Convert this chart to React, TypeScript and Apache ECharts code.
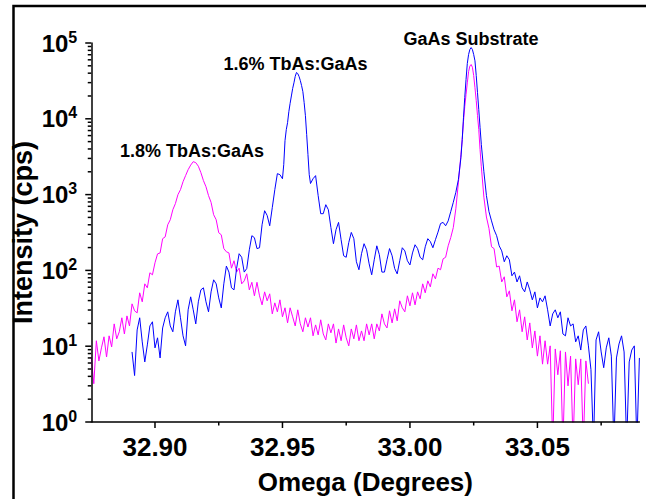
import React, { useEffect, useRef } from 'react';
import * as echarts from 'echarts';

const FONT = '"Liberation Sans", Arial, Helvetica, sans-serif';

// tick values
const xMajorTicks = [32.9, 32.95, 33.0, 33.05];
const xMinorTicks = [32.925, 32.975, 33.025, 33.075];
const yMajorTicks = [1, 10, 100, 1000, 10000, 100000];
const yMinorTicks = [
  2, 3, 4, 5, 6, 7, 8, 9,
  20, 30, 40, 50, 60, 70, 80, 90,
  200, 300, 400, 500, 600, 700, 800, 900,
  2000, 3000, 4000, 5000, 6000, 7000, 8000, 9000,
  20000, 30000, 40000, 50000, 60000, 70000, 80000, 90000,
];

const xAxisTitle = 'Omega (Degrees)';
const yAxisTitle = 'Intensity (cps)';
const peakLabels = ['1.8% TbAs:GaAs', '1.6% TbAs:GaAs', 'GaAs Substrate'];

// 1.8% TbAs:GaAs sample (magenta) — [omega, intensity]
const film18 = [
  [32.875,7.2],[32.876,3.2],[32.877,11.8],[32.878,6.4],[32.879,9.5],[32.880,13.3],[32.881,7.2],[32.882,13.7],[32.883,9.8],[32.884,19.7],
  [32.885,12.5],[32.886,15.5],[32.887,23.7],[32.888,14.5],[32.889,25.1],[32.890,18.5],[32.891,36.2],[32.892,29.3],[32.893,27.5],[32.894,50.6],
  [32.895,38.5],[32.896,66.5],[32.897,58.9],[32.898,93],[32.899,87.5],[32.900,126],[32.901,165],[32.902,170],[32.903,262],[32.904,277],
  [32.905,400],[32.906,466],[32.907,632],[32.908,760],[32.909,998],[32.910,1161],[32.911,1480],[32.912,1780],[32.913,2133],[32.914,2450],
  [32.915,2720],[32.916,2640],[32.917,2370],[32.918,1950],[32.919,1530],[32.920,1270],[32.921,970],[32.922,790],[32.923,543],[32.924,466],
  [32.925,314],[32.926,295],[32.927,194],[32.928,176],[32.929,170],[32.930,107],[32.931,134],[32.932,95],[32.933,107],[32.934,66.5],
  [32.935,72.8],[32.936,90.2],[32.937,55.4],[32.938,69.7],[32.939,46.2],[32.940,69.7],[32.941,46.2],[32.942,35.1],[32.943,52.1],[32.944,39.7],
  [32.945,49.1],[32.946,26.7],[32.947,37.3],[32.948,28.4],[32.949,40.9],[32.950,24.4],[32.951,32.1],[32.952,20.3],[32.953,32.1],[32.954,24.4],
  [32.955,18.5],[32.956,30.2],[32.957,19.7],[32.958,15.5],[32.959,23.7],[32.960,17.9],[32.961,23.7],[32.962,13.7],[32.963,19.1],[32.964,14.1],
  [32.965,22.3],[32.966,14.5],[32.967,12.1],[32.968,19.7],[32.969,15.0],[32.970,19.7],[32.971,11.0],[32.972,16.9],[32.973,11.8],[32.974,19.1],
  [32.975,12.9],[32.976,10.1],[32.977,16.9],[32.978,12.5],[32.979,19.1],[32.980,11.8],[32.981,15.9],[32.982,11.8],[32.983,19.7],[32.984,14.1],
  [32.985,19.7],[32.986,12.5],[32.987,19.7],[32.988,15.9],[32.989,26.7],[32.990,19.7],[32.991,17.4],[32.992,29.3],[32.993,20.3],[32.994,31.1],
  [32.995,21.6],[32.996,39.7],[32.997,32.1],[32.998,28.4],[32.999,46.2],[33.000,34.1],[33.001,50.6],[33.002,35.1],[33.003,52.1],[33.004,42.2],
  [33.005,66.5],[33.006,50.6],[33.007,72.8],[33.008,60.7],[33.009,90.2],[33.010,77.4],[33.011,107],[33.012,102],[33.013,142],[33.014,149],
  [33.015,211],[33.016,271],[33.017,367],[33.018,650],[33.019,1430],[33.020,3370],[33.0205,5310],[33.021,9200],[33.0215,14500],[33.022,20900],
  [33.0225,29800],[33.023,41900],[33.0235,49600],[33.024,52000],[33.0245,47900],[33.025,37300],[33.0255,25700],[33.026,17400],[33.0265,11000],[33.027,7200],
  [33.0275,3920],[33.028,2330],[33.029,924],[33.030,506],[33.031,358],[33.032,205],[33.033,194],[33.034,111],[33.035,114],[33.036,70.4],
  [33.037,82.4],[33.038,44.8],[33.039,53.7],[33.040,29.3],[33.041,40.9],[33.042,21.0],[33.043,30.2],[33.044,15.5],[33.045,24.4],[33.046,12.1],
  [33.047,20.3],[33.048,9.5],[33.049,15.9],[33.050,7.4],[33.051,13.7],[33.052,5.8],[33.053,11.8],[33.054,5.8],[33.055,10.1],[33.056,0.5],
  [33.057,9.2],[33.058,4.2],[33.059,8.7],[33.060,0.5],[33.061,8.4],[33.062,3.0],[33.063,7.4],[33.064,0.5],[33.065,6.8],[33.066,3.1],
  [33.067,6.8],[33.068,0.5],[33.069,6.4],[33.070,3.2],
];

// 1.6% TbAs:GaAs sample (blue) — [omega, intensity]
const film16 = [
  [32.891,8.4],[32.892,4.1],[32.893,16.4],[32.894,23.7],[32.895,11.4],[32.896,6.2],[32.897,10.4],[32.898,18.5],[32.899,21.0],[32.900,9.5],
  [32.901,12.9],[32.902,7.0],[32.903,17.4],[32.904,23.7],[32.905,28.4],[32.906,18.5],[32.907,15.5],[32.908,28.4],[32.909,40.9],[32.910,23.7],
  [32.911,13.7],[32.912,10.1],[32.913,30.2],[32.914,44.8],[32.915,30.2],[32.916,19.7],[32.917,38.5],[32.918,55.4],[32.919,58.9],[32.920,38.5],
  [32.921,28.4],[32.922,52.1],[32.923,75.1],[32.924,66.5],[32.925,43.4],[32.926,32.0],[32.927,66.5],[32.928,114],[32.929,95],[32.930,58.9],
  [32.931,55.4],[32.932,106],[32.933,166],[32.934,149],[32.935,95],[32.936,106],[32.937,187],[32.938,287],[32.939,270],[32.940,194],
  [32.941,199],[32.942,400],[32.943,613],[32.944,530],[32.945,388],[32.946,672],[32.947,1161],[32.948,1890],[32.949,1833],[32.950,1620],
  [32.9505,2484],[32.951,5150],[32.9515,7197],[32.952,8900],[32.9525,12400],[32.953,16000],[32.9535,20000],[32.954,25100],[32.9545,29800],[32.955,36200],
  [32.9555,40800],[32.956,39500],[32.9565,36200],[32.957,32000],[32.9575,27400],[32.958,22800],[32.9585,16400],[32.959,11000],[32.9595,6180],[32.960,3370],
  [32.9605,1830],[32.961,1400],[32.962,1620],[32.963,1780],[32.964,970],[32.965,560],[32.966,560],[32.967,736],[32.968,632],[32.969,367],
  [32.970,225],[32.971,344],[32.972,430],[32.973,254],[32.974,156],[32.975,149],[32.976,233],[32.977,317],[32.978,262],[32.979,130],
  [32.980,102],[32.981,166],[32.982,225],[32.983,187],[32.984,122],[32.985,87.5],[32.986,138],[32.987,211],[32.988,161],[32.989,95],
  [32.990,95],[32.991,138],[32.992,194],[32.993,156],[32.994,106],[32.995,90],[32.996,134],[32.997,199],[32.998,181],[32.999,134],
  [33.000,118],[33.001,170],[33.002,218],[33.003,194],[33.004,149],[33.005,138],[33.006,205],[33.007,262],[33.008,240],[33.009,199],
  [33.010,254],[33.011,320],[33.012,415],[33.013,430],[33.014,388],[33.015,450],[33.016,596],[33.017,790],[33.018,1070],[33.019,1574],
  [33.020,3070],[33.0205,5310],[33.021,10300],[33.0215,19100],[33.022,33000],[33.0225,53600],[33.023,70500],[33.0235,82000],[33.024,87000],[33.0245,82000],
  [33.025,70500],[33.0255,58200],[33.026,37300],[33.0265,22100],[33.027,13200],[33.0275,7700],[33.028,4560],[33.029,2000],[33.030,970],[33.031,596],
  [33.032,450],[33.033,344],[33.034,287],[33.035,211],[33.036,181],[33.037,130],[33.038,156],[33.039,138],[33.040,84.9],[33.041,95],
  [33.042,70.4],[33.043,84.9],[33.044,58.9],[33.045,52.1],[33.046,70.4],[33.047,55.4],[33.048,40.9],[33.049,52.1],[33.050,32.0],[33.051,43.4],
  [33.052,38.5],[33.053,46.2],[33.054,30.2],[33.055,18.5],[33.056,26.7],[33.057,30.2],[33.058,23.7],[33.059,28.4],[33.060,14.5],[33.061,13.7],
  [33.062,23.7],[33.063,18.5],[33.064,19.7],[33.065,11.4],[33.066,13.7],[33.067,8.9],[33.068,16.4],[33.069,18.5],[33.070,10.1],[33.071,4.9],
  [33.072,0.5],[33.073,12.1],[33.074,15.5],[33.075,8.4],[33.076,5.2],[33.077,9.5],[33.078,12.9],[33.079,7.4],[33.080,0.5],[33.081,7.0],
  [33.082,10.7],[33.083,13.7],[33.084,8.4],[33.085,0.5],[33.086,6.2],[33.087,8.9],[33.088,10.1],[33.089,0.5],[33.090,7.0],
];

const X_MIN = 32.875;
const X_MAX = 33.09;
const Y_MIN = 1;
const Y_MAX = 100000;

function tickSeries(values: number[], dir: 'x' | 'y', len: number) {
  const data = values.map((v) => (dir === 'x' ? [v, Y_MIN] : [X_MIN, v]));
  return {
    type: 'custom',
    xAxisIndex: 0,
    yAxisIndex: 0,
    silent: true,
    clip: false,
    z: 10,
    data,
    renderItem: (_params: any, api: any) => {
      const p = api.coord([api.value(0), api.value(1)]);
      const shape =
        dir === 'x'
          ? { x1: p[0], y1: p[1], x2: p[0], y2: p[1] + len }
          : { x1: p[0] - len, y1: p[1], x2: p[0], y2: p[1] };
      return { type: 'line', shape, style: { stroke: '#000', lineWidth: 1.5 } };
    },
  };
}

export default function App() {
  const ref = useRef<HTMLDivElement>(null);

  useEffect(() => {
    if (!ref.current) return;
    const chart = echarts.init(ref.current, null, { renderer: 'svg' });
    const lineStyle = { color: '#000', width: 1.5 };

    const option: any = {
      animation: false,
      backgroundColor: '#ffffff',
      grid: { left: 91.25, right: 6.6, top: 43, bottom: 77, outerBoundsMode: 'none' },
      xAxis: {
        type: 'value', min: X_MIN, max: X_MAX, position: 'bottom', z: 5,
        axisLine: { show: true, lineStyle },
        axisTick: { show: false },
        axisLabel: {
          show: true, customValues: xMajorTicks,
          formatter: (v: number) => v.toFixed(2),
          fontSize: 26, fontWeight: 'bold', fontFamily: FONT, color: '#000', margin: 12,
        },
        splitLine: { show: false },
        name: xAxisTitle, nameLocation: 'middle', nameGap: 47, nameMoveOverlap: false,
        nameTextStyle: { fontSize: 26, fontWeight: 'bold', fontFamily: FONT, color: '#000' },
      },
      yAxis: {
        type: 'log', logBase: 10, min: Y_MIN, max: Y_MAX, position: 'left', z: 5,
        axisLine: { show: true, lineStyle },
        axisTick: { show: false },
        axisLabel: {
          show: true, customValues: yMajorTicks, margin: 14,
          formatter: (v: number) => `{b|10}{s|${Math.round(Math.log10(v))}}`,
          rich: {
            b: { fontSize: 24, fontWeight: 'bold', fontFamily: FONT, color: '#000', lineHeight: 28 },
            s: { fontSize: 16, fontWeight: 'bold', fontFamily: FONT, color: '#000', verticalAlign: 'top', lineHeight: 28 },
          },
        },
        splitLine: { show: false },
        name: yAxisTitle, nameLocation: 'middle', nameGap: 55, nameRotate: 90, nameMoveOverlap: false,
        nameTextStyle: { fontSize: 27, fontWeight: 'bold', fontFamily: FONT, color: '#000' },
      },
      series: [
        {
          name: peakLabels[0], type: 'line',
          data: film18, showSymbol: false, symbol: 'none', clip: true,
          lineStyle: { color: '#ff00ff', width: 1 }, itemStyle: { color: '#ff00ff' },
        },
        {
          name: peakLabels[1], type: 'line',
          data: film16, showSymbol: false, symbol: 'none', clip: true,
          lineStyle: { color: '#0000ff', width: 1 }, itemStyle: { color: '#0000ff' },
        },
        tickSeries(xMajorTicks, 'x', 6),
        tickSeries(xMinorTicks, 'x', 3.5),
        tickSeries(yMajorTicks, 'y', 6),
        tickSeries(yMinorTicks, 'y', 3.5),
      ],
      graphic: [
        {
          type: 'rect', silent: true, z: 100,
          shape: { x: 13.5, y: 6, width: 700, height: 600 },
          style: { fill: 'none', stroke: '#000', lineWidth: 2.5 },
        },
        {
          type: 'text', x: 192, y: 151, z: 100,
          style: { text: peakLabels[0], fill: '#000', fontSize: 18, fontWeight: 'bold', fontFamily: FONT, align: 'center', verticalAlign: 'middle' },
        },
        {
          type: 'text', x: 295.5, y: 64, z: 100,
          style: { text: peakLabels[1], fill: '#000', fontSize: 18, fontWeight: 'bold', fontFamily: FONT, align: 'center', verticalAlign: 'middle' },
        },
        {
          type: 'text', x: 471, y: 39, z: 100,
          style: { text: peakLabels[2], fill: '#000', fontSize: 18, fontWeight: 'bold', fontFamily: FONT, align: 'center', verticalAlign: 'middle' },
        },
      ],
    };

    chart.setOption(option);
    return () => chart.dispose();
  }, []);

  return (
    <div
      ref={ref}
      style={{ position: 'fixed', left: 0, top: 0, width: 646, height: 499, background: '#fff' }}
    />
  );
}
